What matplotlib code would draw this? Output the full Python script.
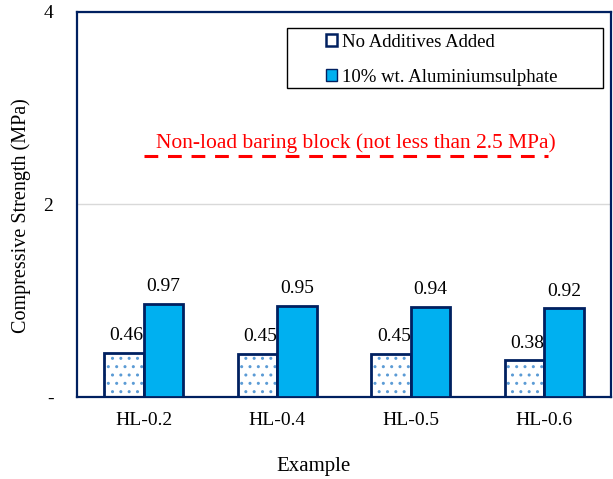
import numpy as np
import matplotlib.pyplot as plt
from matplotlib.patches import Patch, Rectangle

plt.rcParams['font.family'] = ['Liberation Serif', 'DejaVu Serif']
plt.rcParams['hatch.linewidth'] = 1.0

# data
categories = ['HL-0.2', 'HL-0.4', 'HL-0.5', 'HL-0.6']
no_additives = [0.46, 0.45, 0.45, 0.38]
aluminium = [0.97, 0.95, 0.94, 0.92]
series_names = ['No Additives Added', '10% wt. Aluminiumsulphate']
limit_value = 2.5
limit_text = 'Non-load baring block (not less than 2.5 MPa)'

navy = '#002060'
blue = '#00B0F0'
dot = '#5B9BD5'

fig = plt.figure(figsize=(6.13, 4.79), dpi=100)
ax = fig.add_axes([0.1256, 0.1712, 0.8711, 0.8038])

x = np.arange(len(categories))
w = 0.295
# dotted fill first, navy outline on top
ax.bar(x - w / 2, no_additives, w, color='white', edgecolor=dot, hatch='..', linewidth=0, zorder=2)
ax.bar(x - w / 2, no_additives, w, color='none', edgecolor=navy, linewidth=2, zorder=3)
ax.bar(x + w / 2, aluminium, w, color=blue, edgecolor=navy, linewidth=2, zorder=3)

for xi, v in zip(x - w / 2, no_additives):
    ax.annotate(f'{v:.2f}', (xi + 0.02, v), xytext=(0, 6), textcoords='offset points',
                ha='center', va='bottom', fontsize=14)
for xi, v in zip(x + w / 2, aluminium):
    ax.annotate(f'{v:.2f}', (xi, v), xytext=(0, 6), textcoords='offset points',
                ha='center', va='bottom', fontsize=14)

# threshold line
ax.plot([0.0, 3.03], [limit_value, limit_value], color='red', lw=2.2,
        dashes=(4.5, 3.2), zorder=4)
ax.text(1.59, 2.64, limit_text, color='red', fontsize=15.5, ha='center', va='center')

ax.set_xlim(-0.5, 3.5)
ax.set_ylim(0, 4)
ax.set_yticks([0, 2, 4])
ax.set_yticklabels(['-', '2', '4'])
ax.set_xticks(x)
ax.set_xticklabels(categories)
ax.tick_params(axis='y', length=0, pad=17, labelsize=14)
ax.tick_params(axis='x', length=0, pad=11, labelsize=14)
ax.yaxis.grid(True, color='#D9D9D9', lw=1)
ax.set_axisbelow(True)
for s in ax.spines.values():
    s.set_color(navy)
    s.set_linewidth(1.6)

ax.set_ylabel('Compressive Strength (MPa)', fontsize=14.5, va='center')
ax.yaxis.set_label_coords(-0.105, 0.47)
ax.set_xlabel('Example', fontsize=15, va='center')
ax.xaxis.set_label_coords(0.442, -0.18)

# legend with its own frame
ax.add_patch(Rectangle((0.393, 0.8026), 0.592, 0.1555, transform=ax.transAxes,
                       facecolor='white', edgecolor='black', lw=1, zorder=5))
handles = [Patch(facecolor='white', edgecolor=navy, lw=1.8),
           Patch(facecolor=blue, edgecolor=navy, lw=1)]
leg = ax.legend(handles, series_names, loc='center left', bbox_to_anchor=(0.449, 0.876),
                frameon=False, fontsize=13.5, handlelength=0.6, handleheight=0.6,
                handletextpad=0.25, labelspacing=0.95, borderpad=0)
leg.set_zorder(6)

fig.savefig('out.png', dpi=100)
